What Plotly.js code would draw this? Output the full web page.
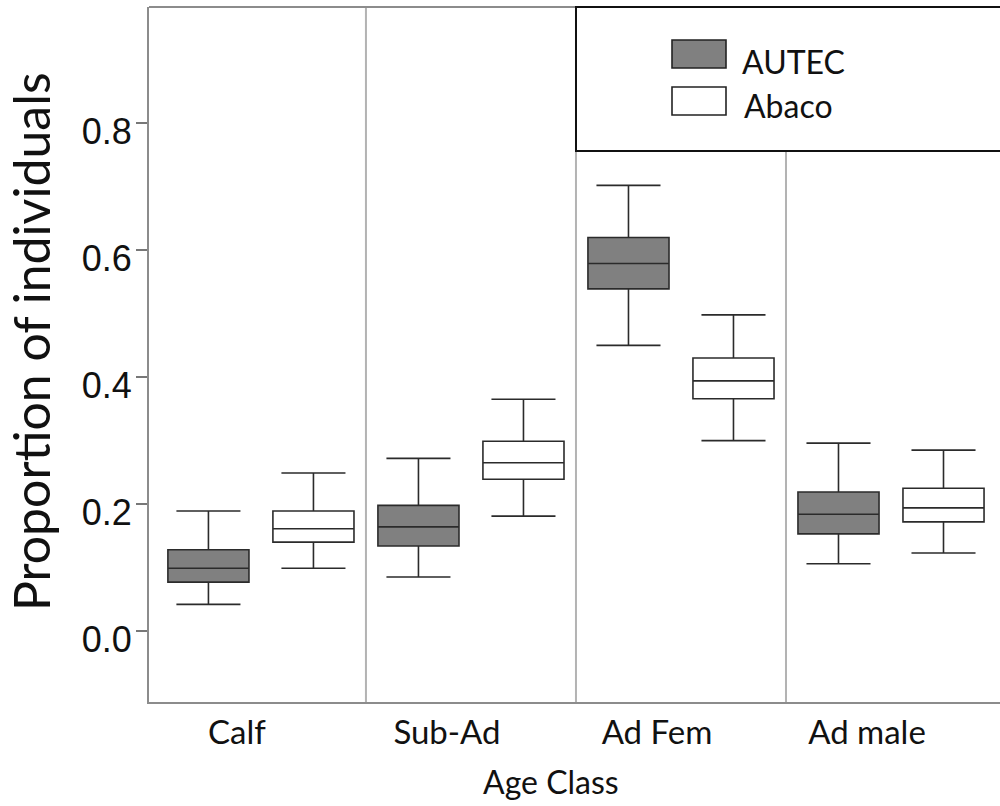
<!DOCTYPE html>
<html><head><meta charset="utf-8">
<script src="https://cdn.plot.ly/plotly-3.0.1.min.js"></script>
<style>html,body{margin:0;padding:0;background:#fff}#chart{width:1000px;height:806px}</style>
</head><body><div id="chart"></div>
<script>
const categories = ['Calf', 'Sub-Ad', 'Ad Fem', 'Ad male'];
const seriesNames = ['AUTEC', 'Abaco'];

const autecLower  = [0.042, 0.085, 0.450, 0.106];
const autecQ1     = [0.077, 0.134, 0.539, 0.153];
const autecMedian = [0.099, 0.164, 0.579, 0.184];
const autecQ3     = [0.128, 0.198, 0.620, 0.219];
const autecUpper  = [0.189, 0.272, 0.702, 0.296];

const abacoLower  = [0.099, 0.181, 0.300, 0.123];
const abacoQ1     = [0.140, 0.239, 0.366, 0.172];
const abacoMedian = [0.161, 0.265, 0.394, 0.194];
const abacoQ3     = [0.189, 0.299, 0.430, 0.225];
const abacoUpper  = [0.249, 0.365, 0.498, 0.285];

const yTickValues = [0, 0.2, 0.4, 0.6, 0.8];
const yTickLabels = ['0.0', '0.2', '0.4', '0.6', '0.8'];

const lineCol = '#2b2b2b';
const traces = [
  {type: 'box', name: seriesNames[0], x: categories, q1: autecQ1, median: autecMedian, q3: autecQ3,
   lowerfence: autecLower, upperfence: autecUpper, boxpoints: false, whiskerwidth: 0.79,
   fillcolor: '#808080', line: {color: lineCol, width: 1.6}, showlegend: false, hoverinfo: 'skip'},
  {type: 'box', name: seriesNames[1], x: categories, q1: abacoQ1, median: abacoMedian, q3: abacoQ3,
   lowerfence: abacoLower, upperfence: abacoUpper, boxpoints: false, whiskerwidth: 0.79,
   fillcolor: '#ffffff', line: {color: lineCol, width: 1.6}, showlegend: false, hoverinfo: 'skip'}
];

const L = 149, R = 1000, T = 7, B = 702;
const px = v => (v - L) / (R - L);
const py = v => (B - v) / (B - T);

const shapes = [];
[0.5, 1.5, 2.5].forEach(s => shapes.push({type: 'line', xref: 'x', yref: 'paper', x0: s, x1: s, y0: 0, y1: 1,
  line: {color: '#b3b3b3', width: 2}, layer: 'below'}));
shapes.push({type: 'line', xref: 'paper', yref: 'paper', x0: 0, x1: 1, y0: 1, y1: 1, line: {color: '#8c8c8c', width: 2}});
// legend box
shapes.push({type: 'rect', xref: 'paper', yref: 'paper', x0: px(576), x1: px(1010), y0: py(151), y1: py(7),
  line: {color: '#111', width: 2}, fillcolor: '#ffffff', layer: 'above'});
shapes.push({type: 'rect', xref: 'paper', yref: 'paper', x0: px(672), x1: px(726), y0: py(68), y1: py(40),
  line: {color: '#222', width: 1.6}, fillcolor: '#808080', layer: 'above'});
shapes.push({type: 'rect', xref: 'paper', yref: 'paper', x0: px(672), x1: px(726), y0: py(115), y1: py(87),
  line: {color: '#222', width: 1.6}, fillcolor: '#ffffff', layer: 'above'});

const annotations = [
  {xref: 'paper', yref: 'paper', x: px(740), y: py(61), xanchor: 'left', yanchor: 'middle', showarrow: false,
   text: seriesNames[0], font: {family: 'Lato', size: 32, color: '#111'}},
  {xref: 'paper', yref: 'paper', x: px(742), y: py(106), xanchor: 'left', yanchor: 'middle', showarrow: false,
   text: seriesNames[1], font: {family: 'Lato', size: 32, color: '#111'}},
  {xref: 'paper', yref: 'paper', x: px(551), y: py(781), xanchor: 'center', yanchor: 'middle', showarrow: false,
   text: 'Age Class', font: {family: 'Lato', size: 32, color: '#111'}},
  {xref: 'paper', yref: 'paper', x: px(31), y: py(342), xanchor: 'center', yanchor: 'middle', showarrow: false,
   textangle: -90, text: 'Proportion of individuals', font: {family: 'Lato', size: 50, color: '#111'}}
];

const layout = {
  width: 1000, height: 806,
  margin: {l: L, r: 0, t: T, b: 806 - B, pad: 0},
  paper_bgcolor: '#fff', plot_bgcolor: '#fff',
  boxmode: 'group', boxgap: 0, boxgroupgap: 0.228,
  showlegend: false,
  xaxis: {type: 'category', range: [-0.533, 3.519], showline: true, linecolor: '#8c8c8c', linewidth: 2,
    ticks: '', showgrid: false, zeroline: false, ticklabelshift: -24, ticklabelstandoff: 0,
    tickfont: {family: 'Lato', size: 33, color: '#111'}},
  yaxis: {range: [-0.1118, 0.983], tickvals: yTickValues, ticktext: yTickLabels, ticks: 'outside', ticklen: 11,
    tickwidth: 1.5, tickcolor: '#777', showline: true, linecolor: '#8c8c8c', linewidth: 2,
    showgrid: false, zeroline: false, ticklabelstandoff: -3, ticklabelshift: 8,
    tickfont: {family: 'Liberation Sans', size: 36, color: '#111'}},
  shapes: shapes, annotations: annotations
};

Plotly.newPlot('chart', traces, layout, {displayModeBar: false, staticPlot: true});
</script>
</body></html>
